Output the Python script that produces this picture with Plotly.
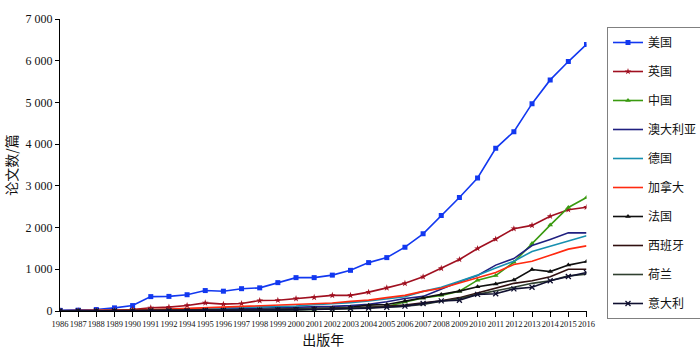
import plotly.graph_objects as go

years = ["1986", "1987", "1988", "1989", "1990", "1991", "1992", "1994", "1995", "1996",
         "1997", "1998", "1999", "2000", "2001", "2002", "2003", "2004", "2005", "2006",
         "2007", "2008", "2009", "2010", "2011", "2012", "2013", "2014", "2015", "2016"]

us = [15, 20, 35, 75, 130, 345, 350, 390, 490, 475, 535, 555, 680, 800, 800, 860, 975, 1160, 1280, 1530,
      1850, 2290, 2720, 3190, 3900, 4300, 4970, 5540, 5980, 6390]
uk = [5, 8, 12, 20, 35, 77, 94, 133, 195, 164, 180, 250, 258, 297, 328, 375, 375, 452, 555, 663,
      820, 1023, 1234, 1498, 1725, 1974, 2053, 2271, 2428, 2489]
china = [0, 0, 1, 2, 3, 5, 6, 8, 10, 12, 15, 18, 22, 28, 35, 45, 60, 80, 110, 218,
         312, 375, 476, 740, 850, 1171, 1620, 2060, 2482, 2720]
australia = [2, 3, 5, 8, 12, 20, 25, 30, 40, 45, 55, 60, 70, 80, 90, 110, 130, 160, 220, 300,
             350, 530, 700, 850, 1100, 1257, 1569, 1716, 1873, 1873]
germany = [3, 5, 8, 12, 18, 30, 40, 50, 60, 70, 80, 90, 100, 120, 150, 170, 200, 240, 290, 340,
           470, 569, 710, 860, 1030, 1194, 1428, 1561, 1678, 1803]
canada = [5, 8, 12, 18, 25, 35, 45, 60, 85, 95, 115, 135, 145, 155, 165, 190, 230, 260, 320, 375,
          470, 546, 672, 804, 921, 1117, 1194, 1335, 1483, 1561]
france = [1, 2, 3, 4, 5, 8, 10, 15, 20, 25, 30, 35, 40, 50, 60, 70, 90, 140, 156, 242,
          312, 398, 476, 580, 650, 745, 995, 944, 1100, 1185]
spain = [1, 2, 3, 4, 5, 6, 8, 10, 15, 18, 22, 25, 30, 38, 45, 55, 70, 90, 110, 140,
         195, 242, 320, 437, 546, 663, 726, 820, 1000, 1000]
netherlands = [1, 2, 3, 4, 5, 8, 10, 12, 15, 18, 22, 28, 32, 40, 48, 55, 65, 80, 95, 117,
               156, 234, 297, 398, 476, 569, 663, 726, 843, 882]
italy = [0, 1, 1, 2, 3, 5, 6, 8, 10, 12, 15, 18, 22, 28, 35, 42, 55, 70, 90, 117,
         180, 242, 258, 398, 414, 531, 569, 726, 827, 921]

series = [
    ("美国", us, "#1238f0", "square", 5, 0),
    ("英国", uk, "#a01020", "star", 5, 0),
    ("中国", china, "#3a9a10", "triangle-up", 5, 0),
    ("澳大利亚", australia, "#202080", None, 0, 0),
    ("德国", germany, "#1890b0", None, 0, 0),
    ("加拿大", canada, "#ff2a10", None, 0, 0),
    ("法国", france, "#101010", "triangle-up", 5, 0),
    ("西班牙", spain, "#301010", None, 0, 0),
    ("荷兰", netherlands, "#304030", None, 0, 0),
    ("意大利", italy, "#101030", "x-thin", 5, 1.3),
]

fig = go.Figure()
for i, (name, vals, color, sym, size, lw) in enumerate(series):
    if sym:
        mode = "lines+markers"
        marker = dict(symbol=sym, size=size, color=color, line=dict(color=color, width=lw))
    else:
        mode = "lines"
        marker = None
    fig.add_trace(go.Scatter(
        x=years, y=vals, name=name, mode=mode,
        line=dict(color=color, width=1.6),
        marker=marker, legendgroup=f"g{i}",
    ))

fig.update_layout(
    width=700, height=353,
    margin=dict(l=53, r=102, t=17, b=37),
    paper_bgcolor="white", plot_bgcolor="white",
    font=dict(family="Liberation Serif, Noto Sans CJK SC", color="#111111"),
    separators=". ",
    showlegend=True,
    legend=dict(
        xref="container", yref="container",
        x=607 / 700, xanchor="left", y=1 - 27 / 353, yanchor="top",
        bordercolor="#808080", borderwidth=1, bgcolor="white",
        font=dict(size=12, family="Liberation Serif, Noto Sans CJK SC"),
        tracegroupgap=10, itemwidth=30, maxheight=1,
    ),
)

fig.update_xaxes(
    type="category", range=[0, len(years) - 1],
    tickmode="array", tickvals=years, ticktext=years,
    tickangle=0,
    showline=True, linecolor="black", linewidth=1.2,
    ticks="outside", ticklen=5, tickcolor="black",
    showgrid=False, zeroline=False,
    tickfont=dict(size=8.5, family="Liberation Serif"),
    title=dict(text="出版年", font=dict(size=14, family="Noto Sans CJK SC"), standoff=2),
)
fig.update_yaxes(
    range=[0, 7000], dtick=1000, tick0=0,
    separatethousands=True, tickformat=",d",
    showline=True, linecolor="black", linewidth=1.2,
    ticks="outside", ticklen=4, tickcolor="black",
    showgrid=False, zeroline=False,
    tickfont=dict(size=12, family="Liberation Serif"),
    title=dict(text="论文数/篇", font=dict(size=14, family="Noto Sans CJK SC"), standoff=4),
)

fig.write_html("out.html")
